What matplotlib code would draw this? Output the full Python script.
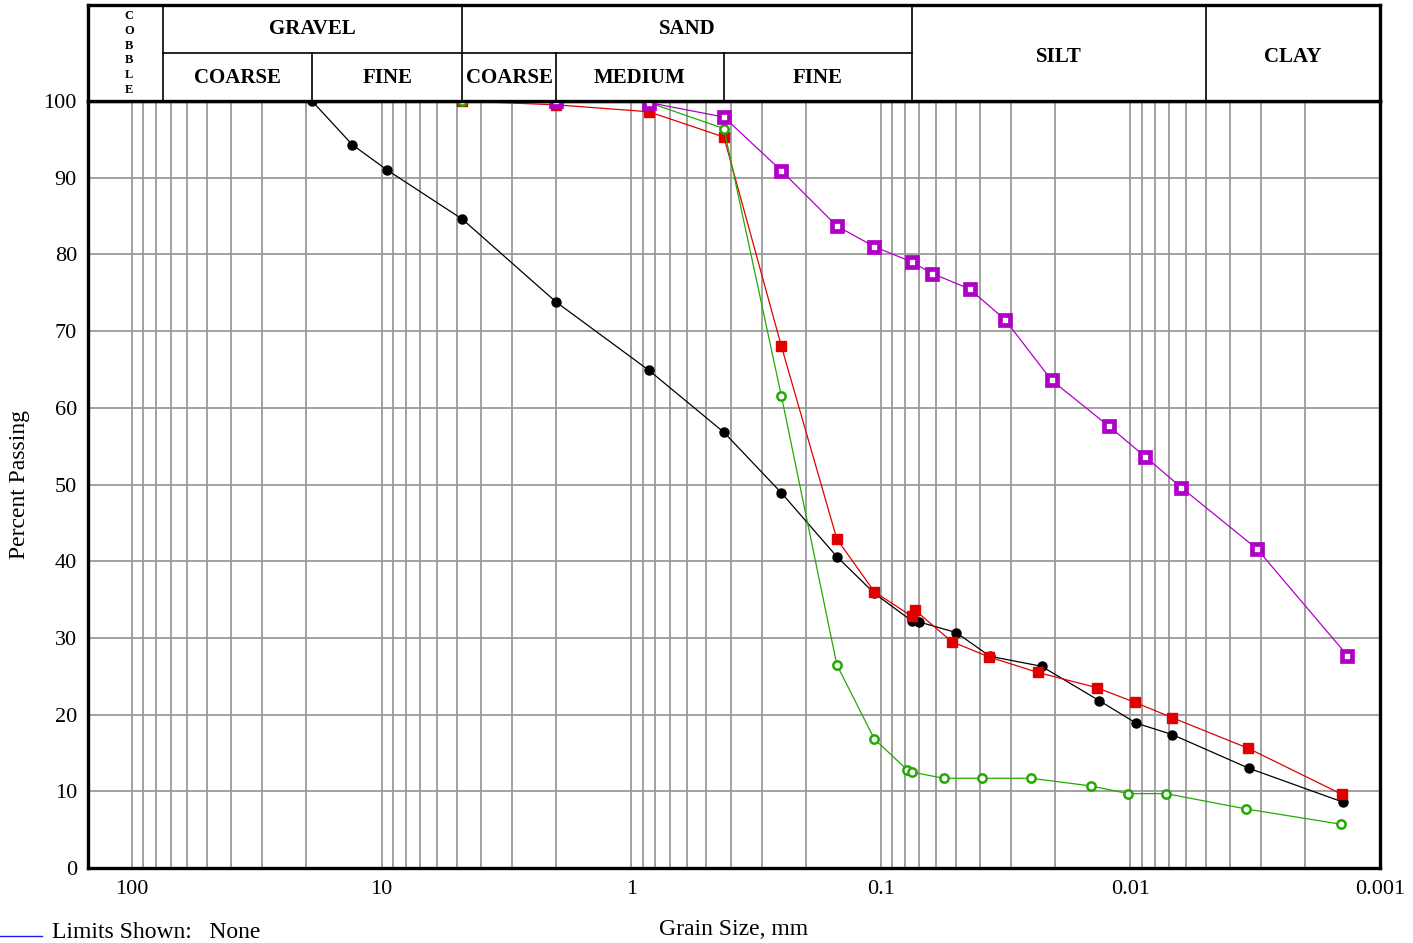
import numpy as np
import matplotlib
matplotlib.use("Agg")
import matplotlib.pyplot as plt

plt.rcParams['font.family'] = ['Liberation Serif', 'DejaVu Serif']

# Curvas granulométricas (tamanho em mm, % passante)
black_size = [19, 13.1, 9.5, 4.75, 2.0, 0.85, 0.425, 0.25, 0.15, 0.106, 0.075, 0.0706,
              0.0499, 0.0365, 0.0227, 0.0133, 0.0095, 0.0068, 0.00335, 0.00141]
black_pct = [100, 94.3, 91.0, 84.6, 73.8, 64.9, 56.8, 48.9, 40.6, 35.8, 32.2, 32.1,
             30.7, 27.6, 26.3, 21.8, 18.9, 17.4, 13.0, 8.6]

red_size = [4.75, 2.0, 0.85, 0.425, 0.25, 0.15, 0.106, 0.075, 0.0728, 0.0519, 0.0367,
            0.0235, 0.0136, 0.0096, 0.0068, 0.00337, 0.00142]
red_pct = [100, 99.5, 98.6, 95.3, 68.0, 42.9, 36.0, 32.8, 33.6, 29.5, 27.5,
           25.5, 23.5, 21.6, 19.6, 15.6, 9.6]

green_size = [4.75, 2.0, 0.85, 0.425, 0.25, 0.15, 0.106, 0.0784, 0.075, 0.056, 0.0394,
              0.025, 0.0144, 0.0102, 0.0072, 0.00344, 0.00143]
green_pct = [100, 99.9, 99.8, 96.4, 61.5, 26.5, 16.8, 12.8, 12.5, 11.7, 11.7,
             11.7, 10.7, 9.7, 9.7, 7.7, 5.7]

purple_size = [2.0, 0.85, 0.425, 0.25, 0.15, 0.106, 0.075, 0.0621, 0.0441, 0.0318,
               0.0207, 0.0122, 0.0087, 0.00625, 0.00311, 0.00135]
purple_pct = [100, 99.8, 97.9, 90.9, 83.7, 81.0, 79.0, 77.5, 75.5, 71.5,
              63.6, 57.6, 53.6, 49.6, 41.6, 27.7]

# Limites das classes de solo (mm)
full_bounds = [75, 4.75, 0.075, 0.005]
half_bounds = [19, 2.0, 0.425]
top_labels = [('GRAVEL', 75, 4.75), ('SAND', 4.75, 0.075)]
sub_labels = [('COARSE', 75, 19), ('FINE', 19, 4.75), ('COARSE', 4.75, 2.0),
              ('MEDIUM', 2.0, 0.425), ('FINE', 0.425, 0.075)]
tall_labels = [('SILT', 0.075, 0.005), ('CLAY', 0.005, 0.001)]

XMAX, XMIN = 150, 0.001
GRID = '#9a9a9a'

fig = plt.figure(figsize=(14.13, 9.43), dpi=100)
L, R = 88 / 1413, 1380 / 1413
ax = fig.add_axes([L, 75 / 943, R - L, 767 / 943])
hd = fig.add_axes([L, 842 / 943, R - L, 96 / 943])

# Grade logarítmica
for dec in range(-3, 2):
    for m in range(1, 10):
        v = m * 10.0 ** dec
        ax.axvline(v, color=GRID, lw=1.3, zorder=1)
ax.axvline(100, color=GRID, lw=1.3, zorder=1)
for y in range(10, 100, 10):
    ax.axhline(y, color=GRID, lw=1.3, zorder=1)

kw = dict(lw=0.9, clip_on=False, zorder=3)
ax.plot(black_size, black_pct, color='black', marker='o', ms=6.5, mfc='black', mec='black', **kw)
ax.plot(red_size, red_pct, color='#e00000', marker='s', ms=7, mfc='#e00000', mec='#e00000', **kw)
ax.plot(green_size, green_pct, color='#22aa00', marker='o', ms=6, mfc='white', mec='#22aa00', mew=1.8, **kw)
ax.plot(purple_size, purple_pct, color='#b000c8', marker='s', ms=7, mfc='white', mec='#b000c8', mew=3.4, **kw)

ax.set_xscale('log')
ax.set_xlim(XMAX, XMIN)
ax.set_ylim(0, 100)
ax.set_xticks([100, 10, 1, 0.1, 0.01, 0.001])
ax.set_xticklabels(['100', '10', '1', '0.1', '0.01', '0.001'])
ax.xaxis.set_minor_locator(matplotlib.ticker.NullLocator())
ax.set_yticks(range(0, 101, 10))
ax.tick_params(length=0, labelsize=16, pad=8)
ax.tick_params(axis='x', pad=9)
for s in ax.spines.values():
    s.set_linewidth(2.4)
ax.set_ylabel('Percent Passing', fontsize=17, labelpad=10)
ax.set_xlabel('Grain Size, mm', fontsize=17, labelpad=14)

# Cabeçalho com classificação
hd.set_xscale('log')
hd.set_xlim(XMAX, XMIN)
hd.set_ylim(0, 2)
hd.set_xticks([])
hd.set_yticks([])
hd.xaxis.set_minor_locator(matplotlib.ticker.NullLocator())
for s in hd.spines.values():
    s.set_linewidth(2.4)
for b in full_bounds:
    hd.axvline(b, color='black', lw=1.2)
for b in half_bounds:
    hd.plot([b, b], [0, 1], color='black', lw=1.2)
hd.plot([75, 0.075], [1, 1], color='black', lw=1.2)

def gmid(a, b):
    return np.sqrt(a * b)

for txt, a, b in top_labels:
    hd.text(gmid(a, b), 1.5, txt, ha='center', va='center', fontsize=15, fontweight='bold')
for txt, a, b in sub_labels:
    hd.text(gmid(a, b), 0.48, txt, ha='center', va='center', fontsize=15, fontweight='bold')
for txt, a, b in tall_labels:
    hd.text(gmid(a, b), 0.92, txt, ha='center', va='center', fontsize=15, fontweight='bold')
hd.text(gmid(XMAX, 75) * 0.97, 1.0, 'C\nO\nB\nB\nL\nE', ha='center', va='center',
        fontsize=9, fontweight='bold', linespacing=1.3)

# Legenda de limites (na borda inferior)
fig.add_artist(matplotlib.lines.Line2D([0, 42 / 1413], [7 / 943, 7 / 943], color='#1a1aff', lw=1.0))
fig.text(52 / 1413, 0, 'Limits Shown:   None', fontsize=17, va='bottom')

fig.savefig('out.png', dpi=100)
